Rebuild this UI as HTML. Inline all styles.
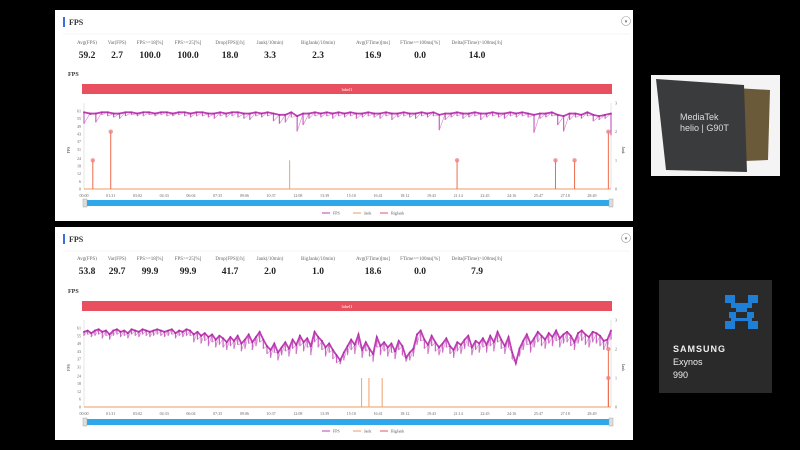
<!DOCTYPE html>
<html><head><meta charset="utf-8">
<style>
html,body{margin:0;padding:0;background:#000;}
svg{display:block;font-family:"Liberation Serif",serif;}
</style></head>
<body>
<svg id="root" width="800" height="450" viewBox="0 0 800 450" xmlns="http://www.w3.org/2000/svg">
<rect width="800" height="450" fill="#000"/>
<g>
<rect x="651" y="75" width="129" height="101" fill="#f4f4f4"/>
<polygon points="700,86 770,90 768,160 720,162" fill="#6b5a3a"/>
<polygon points="656,79 744,85 747,172 666,170" fill="#3a3b3d"/>
<text x="680" y="120" font-family="Liberation Sans,sans-serif" font-size="9" fill="#ddd">MediaTek</text>
<text x="680" y="131" font-family="Liberation Sans,sans-serif" font-size="9" fill="#ddd">helio | G90T</text>
</g>
<g>
<rect x="659" y="280" width="113" height="113" fill="#2a2a2b"/>
<g fill="#1f7fd6">
<rect x="725" y="295" width="10" height="8"/><rect x="748" y="295" width="10" height="8"/>
<rect x="731" y="303" width="21" height="5"/>
<rect x="736" y="308" width="11" height="4"/>
<rect x="729" y="312" width="7" height="6"/><rect x="747" y="312" width="7" height="6"/>
<rect x="731" y="318" width="21" height="3"/>
<rect x="725" y="321" width="10" height="8"/><rect x="748" y="321" width="10" height="8"/>
</g>
<text x="673" y="352" font-family="Liberation Sans,sans-serif" font-size="9" font-weight="bold" fill="#eee" letter-spacing="1">SAMSUNG</text>
<text x="673" y="365" font-family="Liberation Sans,sans-serif" font-size="9" fill="#eee">Exynos</text>
<text x="673" y="378" font-family="Liberation Sans,sans-serif" font-size="9" fill="#eee">990</text>
</g>
<g id="panels"></g>
</svg>
<script>
const statLabels = ["Avg(FPS)","Var(FPS)","FPS>=18[%]","FPS>=25[%]","Drop(FPS)[/h]","Jank(/10min)","BigJank(/10min)","Avg(FTime)[ms]","FTime>=100ms[%]","Delta(FTime)>100ms[/h]"];
const stats1 = ["59.2","2.7","100.0","100.0","18.0","3.3","2.3","16.9","0.0","14.0"];
const stats2 = ["53.8","29.7","99.9","99.9","41.7","2.0","1.0","18.6","0.0","7.9"];
const yTicks = [0,6,12,18,24,31,37,43,49,55,61];
const y2Ticks = [0,1,2,3];
const xLabels = ["00:00","01:31","03:02","04:33","06:04","07:35","09:06","10:37","12:08","13:39","15:10","16:41","18:12","19:43","21:14","22:45","24:16","25:47","27:18","28:49"];
const fps1 = [60,59,59,60,60,59,59,60,60,59,60,60,59,60,60,59,60,60,59,60,60,59,59,60,59,60,60,59,59,60,59,60,59,58,58,60,57,59,59,60,59,60,59,60,59,60,59,59,60,59,59,60,59,59,60,59,59,60,59,60,58,59,59,60,59,59,60,59,59,60,59,59,60,59,60,59,58,59,59,60,58,57,59,59,58,60,58,57,58,59];
const fps1Min = [51,58,52,58,57,56,55,57,58,57,57,58,57,58,57,57,58,57,56,57,57,56,55,57,56,57,56,55,54,57,56,57,53,51,52,56,45,50,55,57,56,57,55,57,56,57,55,56,57,56,55,57,54,56,57,56,55,57,56,57,46,54,56,57,55,56,57,54,56,57,56,55,57,56,57,56,44,55,56,57,50,45,54,56,55,57,53,54,55,42];
const jank1Times = [700];
const jank1Vals = [1];
const big1Times = [30,91,1270,1605,1670,1785];
const big1Vals = [1,2,1,1,1,2];
const fps2 = [58,59,57,59,60,58,59,56,59,60,58,59,57,60,59,58,60,59,58,59,60,59,58,59,60,57,59,58,60,59,
56,58,55,57,54,56,52,55,53,50,54,51,55,49,52,56,50,54,58,52,
47,44,49,42,46,50,45,52,48,55,50,53,47,58,54,51,46,49,44,40,
36,42,47,52,48,56,44,50,45,41,54,47,50,46,49,43,51,47,38,42,
45,56,59,52,48,55,50,46,49,53,47,44,50,48,52,55,46,51,49,53,
48,55,50,58,52,47,54,42,34,45,51,56,49,53,58,55,52,57,54,59,
53,56,58,55,50,57,59,56,54,58,57,55,51,52,59];
const fps2Min = [55,56,54,55,56,53,55,52,55,56,54,55,53,56,55,54,56,55,54,55,56,55,54,55,56,53,55,54,55,55,
50,52,49,51,47,50,46,48,46,44,47,45,48,43,45,49,44,47,50,45,
41,38,42,36,40,43,39,45,41,47,43,46,40,50,46,44,39,42,37,34,
33,36,40,44,41,48,38,43,39,35,46,40,43,39,42,37,44,40,35,36,
39,48,51,45,41,47,43,40,42,46,41,38,43,41,45,47,40,44,42,46,
42,47,43,50,45,41,46,37,32,39,44,48,42,46,50,47,45,49,47,51,
46,49,50,47,44,49,51,48,46,50,49,47,44,45,52];
const jank2Times = [945,970,1015];
const jank2Vals = [1,1,1];
const big2Times = [1785,1785];
const big2Vals = [2,1];
const statCenters = [87,117,150,188,230,270,318,373,420,477];
const NS="http://www.w3.org/2000/svg";
const root=document.getElementById('panels');
function mk(tag,attrs,parent,text){const e=document.createElementNS(NS,tag);for(const k in attrs)e.setAttribute(k,attrs[k]);if(text!==undefined)e.textContent=text;parent.appendChild(e);return e;}

function panel(p){
  const g=mk('g',{},root);
  
  
  const pt=p.top;
  mk('rect',{x:55,y:pt,width:578,height:p.h,fill:'#fff'},g);
  mk('rect',{x:63,y:pt+7,width:2,height:10,fill:'#3b6fe0'},g);
  const t=mk('text',{x:69,y:pt+15,'font-size':8,'font-weight':'bold',fill:'#333'},g,'FPS');
  
  
  const c=mk('circle',{cx:626,cy:pt+11,r:4.5,fill:'#fff',stroke:'#999','stroke-width':0.6},g);
  
  
  mk('text',{x:626,y:pt+13,'font-size':5,'text-anchor':'middle',fill:'#666'},g,'▾');
  mk('line',{x1:63,x2:630,y1:pt+24,y2:pt+24,stroke:'#eee','stroke-width':0.6},g);
  statLabels.forEach((l,i)=>{
    const lt=mk('text',{x:statCenters[i],y:p.statY,'font-size':5,'text-anchor':'middle',fill:'#666'},g,l);
    
    
    const vt=mk('text',{x:statCenters[i],y:p.statY+14,'font-size':9.5,'font-weight':'bold','text-anchor':'middle',fill:'#222'},g,p.stats[i]);
    
    
  });
  mk('text',{x:68,y:p.fpsY,'font-size':6,'font-weight':'bold',fill:'#333'},g,'FPS');
  const bar=mk('rect',{x:82,y:p.barY,width:530,height:10,fill:'#e8505f'},g);
  
  
  mk('text',{x:347,y:p.barY+7,'font-size':4.5,'text-anchor':'middle',fill:'#fff'},g,'label1');
  const X0=84,X1=611,T=1794,Y0=p.y0,Y61=p.y61;
  const xs=t=>X0+(t/T)*(X1-X0);
  const ys=v=>Y0-(v/61)*(Y0-Y61);
  const y2=v=>Y0-(v/3)*(Y0-(Y61-8));
  mk('line',{x1:X0,x2:X0,y1:Y61-8,y2:Y0,stroke:'#ccc','stroke-width':0.5},g);
  mk('line',{x1:X1,x2:X1,y1:Y61-8,y2:Y0,stroke:'#ccc','stroke-width':0.5},g);
  yTicks.forEach(v=>{const tt=mk('text',{x:X0-3,y:ys(v)+1.5,'font-size':4,'text-anchor':'end',fill:'#666'},g,v);
    });
  y2Ticks.forEach(v=>{mk('text',{x:X1+4,y:y2(v)+1.5,'font-size':4,fill:'#666'},g,v);});
  mk('text',{x:70,y:(Y0+Y61)/2,'font-size':4,fill:'#333',transform:`rotate(-90 70 ${(Y0+Y61)/2})`,'text-anchor':'middle'},g,'FPS');
  mk('text',{x:622,y:(Y0+Y61)/2,'font-size':4,fill:'#333',transform:`rotate(90 622 ${(Y0+Y61)/2})`,'text-anchor':'middle'},g,'Jank');
  xLabels.forEach((l,i)=>{const xt=mk('text',{x:xs(i*91),y:Y0+8,'font-size':4,'text-anchor':'middle',fill:'#666'},g,l);
    });
  const n=p.fps.length;
  const px=i=>xs(i*T/(n-1));
  p.fps.forEach((v,i)=>{
    const s=mk('line',{x1:px(i),x2:px(i),y1:ys(v),y2:ys(p.fmin[i]),stroke:'#c860c0','stroke-width':1.2},g);
    
    if(i<n-1){
      const s2=mk('line',{x1:px(i),x2:px(i+1),y1:ys(p.fmin[i]),y2:ys(p.fps[i+1]),stroke:'#d480cc','stroke-width':0.6},g);
      
    }
  });
  const pts=p.fps.map((v,i)=>px(i)+','+ys(v)).join(' ');
  const line=mk('polyline',{points:pts,fill:'none',stroke:'#c03fb6','stroke-width':1.8},g);
  
  
  p.fps.forEach((v,i)=>{const d=mk('rect',{x:px(i)-0.8,y:ys(v)-0.8,width:1.6,height:1.6,fill:'#a0309a'},g);
    });
  mk('line',{x1:X0,x2:X1,y1:Y0,y2:Y0,stroke:'#f29a5c','stroke-width':1},g);
  p.jt.forEach((t,i)=>{const j=mk('line',{x1:xs(t),x2:xs(t),y1:Y0,y2:y2(p.jv[i]),stroke:'#f0a070','stroke-width':1},g);
    });
  p.bt.forEach((t,i)=>{const j=mk('line',{x1:xs(t),x2:xs(t),y1:Y0,y2:y2(p.bv[i]),stroke:'#ee6a4a','stroke-width':1},g);
    
    const m=mk('circle',{cx:xs(t),cy:y2(p.bv[i]),r:2.2,fill:'#f08080','fill-opacity':0.8},g);
    });
  const sb=mk('rect',{x:84,y:p.sbY,width:527,height:6,fill:'#2ea8ea'},g);
  
  
  mk('rect',{x:83,y:p.sbY-1,width:4,height:8,fill:'#ddd',stroke:'#999','stroke-width':0.4},g);
  mk('rect',{x:609,y:p.sbY-1,width:4,height:8,fill:'#ddd',stroke:'#999','stroke-width':0.4},g);
  const ly=p.legY;
  [['FPS','#c03fb6',322],['Jank','#f29a5c',353],['BigJank','#e8505f',380]].forEach(a=>{
    const lg=mk('g',{},g);
    
    
    mk('line',{x1:a[2],x2:a[2]+8,y1:ly,y2:ly,stroke:a[1],'stroke-width':1},lg);
    mk('text',{x:a[2]+11,y:ly+1.5,'font-size':4,fill:'#555'},lg,a[0]);
  });
}
panel({name:'mediatek-fps-panel',top:10,h:211,stats:stats1,statY:44,fpsY:76,barY:84,y0:189,y61:111,sbY:200,legY:213,fps:fps1,fmin:fps1Min,jt:jank1Times,jv:jank1Vals,bt:big1Times,bv:big1Vals});
panel({name:'exynos-fps-panel',top:227,h:213,stats:stats2,statY:260,fpsY:293,barY:301,y0:407,y61:328,sbY:419,legY:431,fps:fps2,fmin:fps2Min,jt:jank2Times,jv:jank2Vals,bt:big2Times,bv:big2Vals});
</script>
</body></html>
